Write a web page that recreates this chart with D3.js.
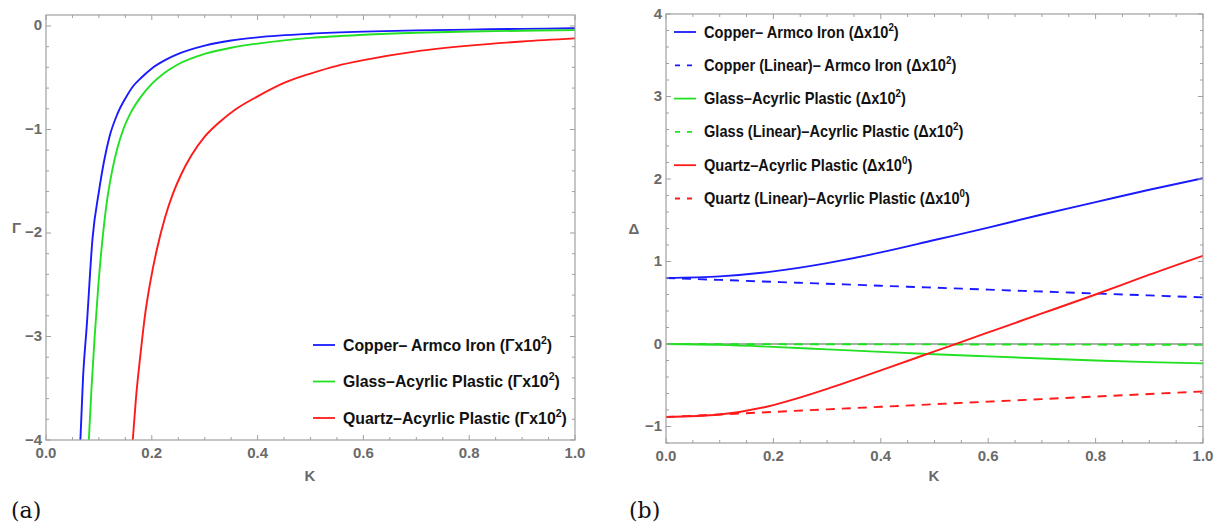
<!DOCTYPE html>
<html><head><meta charset="utf-8">
<script src="https://cdn.jsdelivr.net/npm/d3@7"></script>
<style>
body{margin:0;background:#fff;}
svg{display:block;}
</style></head>
<body>
<svg id="chart" width="1215" height="524"></svg>
<script>
// ---------- Data (panel a) : [K, Gamma] ----------
const gammaCopper = [[0.065,-4],[0.07,-3.4],[0.077,-2.9],[0.088,-2.05],[0.1,-1.6],[0.11,-1.3],[0.12,-1.07],[0.135,-0.85],[0.15,-0.7],[0.165,-0.58],[0.18,-0.5],[0.2,-0.41],[0.225,-0.33],[0.25,-0.27],[0.3,-0.19],[0.35,-0.14],[0.4,-0.11],[0.5,-0.075],[0.6,-0.055],[0.7,-0.043],[0.8,-0.035],[0.9,-0.028],[1.0,-0.022]];
const gammaGlass = [[0.081,-4],[0.086,-3.5],[0.092,-3],[0.099,-2.5],[0.106,-2.1],[0.115,-1.7],[0.125,-1.4],[0.135,-1.18],[0.146,-1.0],[0.16,-0.84],[0.18,-0.68],[0.2,-0.56],[0.225,-0.45],[0.25,-0.37],[0.3,-0.27],[0.35,-0.21],[0.4,-0.17],[0.5,-0.115],[0.6,-0.085],[0.7,-0.066],[0.8,-0.054],[0.9,-0.046],[1.0,-0.04]];
const gammaQuartz = [[0.164,-4],[0.17,-3.6],[0.178,-3.2],[0.187,-2.8],[0.198,-2.45],[0.21,-2.15],[0.225,-1.85],[0.24,-1.62],[0.255,-1.44],[0.275,-1.25],[0.3,-1.07],[0.33,-0.92],[0.36,-0.8],[0.4,-0.68],[0.45,-0.55],[0.5,-0.46],[0.55,-0.385],[0.6,-0.33],[0.7,-0.245],[0.8,-0.19],[0.9,-0.15],[1.0,-0.12]];
const legendA = ["Copper\u2013 Armco Iron (\u0393x10", "Glass\u2013Acyrlic Plastic (\u0393x10", "Quartz\u2013Acyrlic Plastic (\u0393x10"];
const legendAExp = ["2","2","2"];

// ---------- Data (panel b) ----------
const kValues = [0,0.1,0.2,0.3,0.4,0.5,0.6,0.7,0.8,0.9,1.0];
const deltaCopper    = [0.80,0.82,0.88,0.98,1.11,1.26,1.41,1.57,1.72,1.87,2.01];
const deltaCopperLin = [0.80,0.777,0.753,0.730,0.706,0.683,0.659,0.636,0.612,0.589,0.565];
const deltaGlass     = [0,-0.01,-0.035,-0.065,-0.095,-0.125,-0.15,-0.175,-0.2,-0.22,-0.235];
const deltaGlassLin  = [0,-0.001,-0.002,-0.003,-0.004,-0.005,-0.006,-0.007,-0.008,-0.009,-0.01];
const deltaQuartz    = [-0.885,-0.855,-0.74,-0.545,-0.32,-0.09,0.14,0.37,0.6,0.84,1.07];
const deltaQuartzLin = [-0.885,-0.854,-0.823,-0.792,-0.761,-0.730,-0.699,-0.668,-0.637,-0.606,-0.575];
const legendB = ["Copper\u2013 Armco Iron (\u0394x10","Copper (Linear)\u2013 Armco Iron (\u0394x10","Glass\u2013Acyrlic Plastic (\u0394x10","Glass (Linear)\u2013Acyrlic Plastic (\u0394x10","Quartz\u2013Acyrlic Plastic (\u0394x10","Quartz (Linear)\u2013Acyrlic Plastic (\u0394x10"];
const legendBExp = ["2","2","2","2","0","0"];

const xTicks = [0,0.2,0.4,0.6,0.8,1.0];
const yTicksA = [0,-1,-2,-3,-4];
const yTicksB = [-1,0,1,2,3,4];

// ---------- Styles ----------
const BLUE="#1a1aff", GREEN="#22e022", RED="#ff1a1a";
const FRAME="#a0a0a0", TICKTXT="#6a6a6a";
const FONT="'Liberation Sans',Arial,sans-serif";
const svg = d3.select("#chart");

function fmtMinus(v){ return String(v).replace("-","\u2212"); }

function drawFrame(g, x, y, xMinor, yMinor, xMajor, yMajor){
  const [x0,x1]=x.range(), [y1,y0]=y.range();
  g.append("rect").attr("x",x0).attr("y",y0).attr("width",x1-x0).attr("height",y1-y0)
    .attr("fill","none").attr("stroke",FRAME).attr("stroke-width",1.2);
  const tk = g.append("g").attr("stroke",FRAME).attr("stroke-width",1);
  xMinor.forEach(v=>{const L = xMajor.some(m=>Math.abs(m-v)<1e-9)?5:3; const px=x(v);
    tk.append("line").attr("x1",px).attr("x2",px).attr("y1",y1).attr("y2",y1-L);
    tk.append("line").attr("x1",px).attr("x2",px).attr("y1",y0).attr("y2",y0+L);});
  yMinor.forEach(v=>{const L = yMajor.some(m=>Math.abs(m-v)<1e-9)?5:3; const py=y(v);
    tk.append("line").attr("x1",x0).attr("x2",x0+L).attr("y1",py).attr("y2",py);
    tk.append("line").attr("x1",x1).attr("x2",x1-L).attr("y1",py).attr("y2",py);});
  g.selectAll(null).data(xMajor).enter().append("text")
    .attr("x",d=>x(d)).attr("y",y1+18).attr("text-anchor","middle")
    .attr("font-family",FONT).attr("font-weight","bold").attr("font-size",15).attr("fill",TICKTXT)
    .text(d=>d3.format(".1f")(d));
  g.selectAll(null).data(yMajor).enter().append("text")
    .attr("x",x0-4).attr("y",d=>y(d)+4.5).attr("text-anchor","end")
    .attr("font-family",FONT).attr("font-weight","bold").attr("font-size",15).attr("fill",TICKTXT)
    .text(d=>fmtMinus(d));
}
function range(a,b,s){const r=[];for(let v=a;v<=b+1e-9;v+=s)r.push(+v.toFixed(4));return r;}

function legend(g, x, y, dy, labels, exps, colors, dashed, sx){
  labels.forEach((t,i)=>{
    const yy = y+i*dy;
    const ln = g.append("line").attr("x1",x).attr("x2",x+22).attr("y1",yy).attr("y2",yy)
      .attr("stroke",colors[i]).attr("stroke-width",1.8);
    if(dashed[i]) ln.attr("stroke-dasharray","5,7").attr("x1",x+1);
    const tx = g.append("text").attr("transform",`translate(${x+30},${yy+5.5}) scale(${sx},1)`)
      .attr("font-family",FONT).attr("font-weight","bold").attr("font-size",16.5).attr("fill","#111");
    tx.append("tspan").text(t);
    tx.append("tspan").attr("dy",-7).attr("font-size",11).text(exps[i]);
    tx.append("tspan").attr("dy",7).text(")");
  });
}

// ---------- Panel (a) ----------
{
  const x = d3.scaleLinear().domain([0,1]).range([46,575]);
  const y = d3.scaleLinear().domain([-4,0.106]).range([440,15]);
  const g = svg.append("g");
  svg.append("clipPath").attr("id","clipA").append("rect").attr("x",46).attr("y",15).attr("width",529).attr("height",425);
  const line = d3.line().x(d=>x(d[0])).y(d=>y(d[1])).curve(d3.curveMonotoneX);
  const pg = g.append("g").attr("clip-path","url(#clipA)");
  [[gammaCopper,BLUE],[gammaGlass,GREEN],[gammaQuartz,RED]].forEach(([d,c])=>{
    pg.append("path").datum(d).attr("d",line).attr("fill","none").attr("stroke",c).attr("stroke-width",1.9);
  });
  drawFrame(g,x,y,range(0,1,0.05),range(-4,0,0.2),xTicks,yTicksA);
  g.append("text").attr("x",12).attr("y",233).attr("font-family",FONT).attr("font-weight","bold")
    .attr("font-size",15).attr("fill",TICKTXT).text("\u0393");
  g.append("text").attr("x",310).attr("y",481).attr("text-anchor","middle").attr("font-family",FONT).attr("font-weight","bold")
    .attr("font-size",15).attr("fill",TICKTXT).text("K");
  legend(g,313,345,36.5,legendA,legendAExp,[BLUE,GREEN,RED],[false,false,false],0.96);
  g.append("text").attr("x",11).attr("y",518).attr("font-family","'DejaVu Serif','Liberation Serif',serif")
    .attr("font-size",22).attr("fill","#111").text("(a)");
}

// ---------- Panel (b) ----------
{
  const x = d3.scaleLinear().domain([0,1]).range([666,1203]);
  const y = d3.scaleLinear().domain([-1.2,4]).range([443,14]);
  const g = svg.append("g");
  svg.append("clipPath").attr("id","clipB").append("rect").attr("x",666).attr("y",14).attr("width",537).attr("height",429);
  const pg = g.append("g").attr("clip-path","url(#clipB)");
  pg.append("line").attr("x1",666).attr("x2",1203).attr("y1",y(0)).attr("y2",y(0)).attr("stroke","#909090").attr("stroke-width",1.3);
  const line = d3.line().x((d,i)=>x(kValues[i])).y(d=>y(d)).curve(d3.curveNatural);
  const series = [[deltaGlassLin,GREEN,true],[deltaCopperLin,BLUE,true],[deltaQuartzLin,RED,true],
                  [deltaGlass,GREEN,false],[deltaCopper,BLUE,false],[deltaQuartz,RED,false]];
  series.forEach(([d,c,dash])=>{
    const p = pg.append("path").datum(d).attr("d",line).attr("fill","none").attr("stroke",c).attr("stroke-width",1.9);
    if(dash) p.attr("stroke-dasharray","9,7");
  });
  drawFrame(g,x,y,range(0,1,0.05),range(-1.2,4,0.2),xTicks,yTicksB);
  g.append("text").attr("x",634).attr("y",234).attr("text-anchor","middle").attr("font-family",FONT).attr("font-weight","bold")
    .attr("font-size",15).attr("fill",TICKTXT).text("\u0394");
  g.append("text").attr("x",934).attr("y",481).attr("text-anchor","middle").attr("font-family",FONT).attr("font-weight","bold")
    .attr("font-size",15).attr("fill",TICKTXT).text("K");
  legend(g,674,32,33.3,legendB,legendBExp,[BLUE,BLUE,GREEN,GREEN,RED,RED],[false,true,false,true,false,true],0.885);
  g.append("text").attr("x",629).attr("y",518).attr("font-family","'DejaVu Serif','Liberation Serif',serif")
    .attr("font-size",22).attr("fill","#111").text("(b)");
}
</script>
</body></html>
